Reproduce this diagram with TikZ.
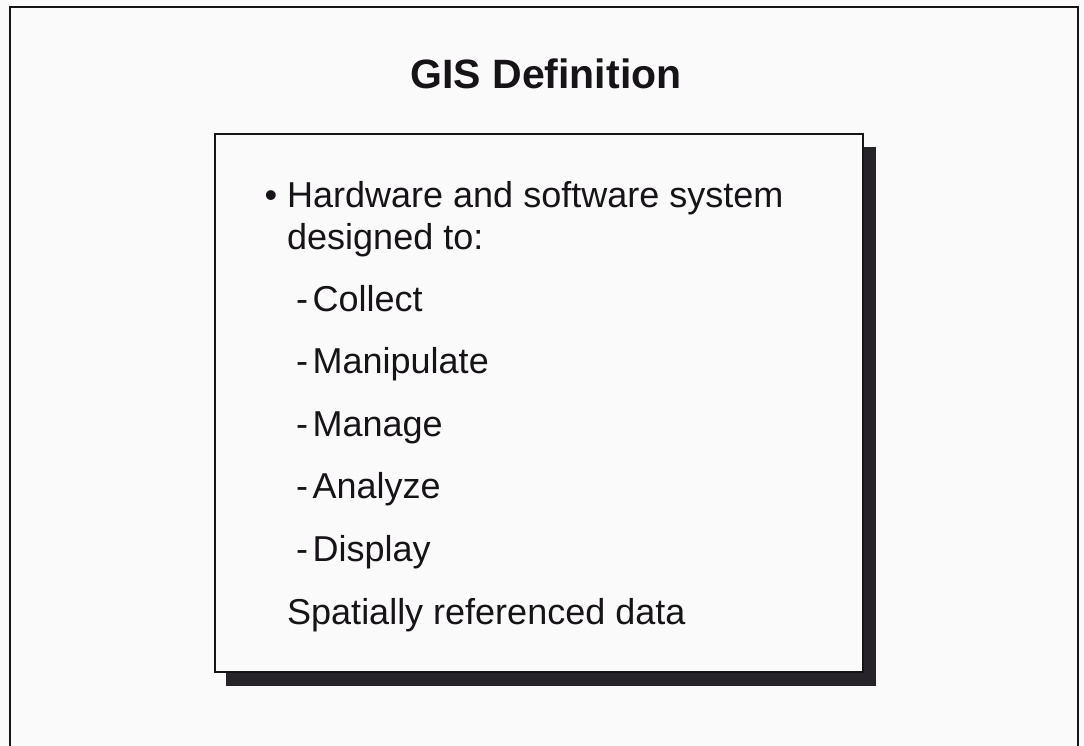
\documentclass[tikz,border=0pt]{standalone}
\usepackage{fontspec}
\setmainfont{Liberation Sans}
\definecolor{paper}{RGB}{251,250,251}
\definecolor{ink}{RGB}{22,20,22}
\definecolor{shade}{RGB}{38,36,40}
\begin{document}
\begin{tikzpicture}[x=1pt,y=-1pt,
  frameline/.style={draw=ink,line width=2pt},
  boxline/.style={draw=ink,line width=2.6pt,fill=paper},
  shadowfill/.style={fill=shade},
  titletext/.style={font=\fontsize{41}{48}\selectfont\bfseries,text=ink,inner sep=0pt,anchor=base},
  itemtext/.style={font=\fontsize{36}{42}\selectfont,text=ink,inner sep=0pt,anchor=base west}]
  % page
  \fill[paper] (0,0) rectangle (1084,745);
  \useasboundingbox (0,0) rectangle (1084,745);
  % slide frame, open at the bottom edge
  \draw[frameline] (10,746) -- (10,7) -- (1078,7) -- (1078,746);
  % title
  \node[titletext] (title) at (546,88) {GIS Definition};
  % drop shadow and text panel
  \path[shadowfill] (226,147) rectangle (876,686);
  \node[boxline,minimum width=648pt,minimum height=538pt,inner sep=0pt] (panel) at (539,403) {};
  % list
  \node[itemtext] (l1) at (264.4,207) {• Hardware and software system};
  \node[itemtext] (l2) at (287,249) {designed to:};
  \node[itemtext] (l3) at (296,311) {-\hspace{4.5pt}Collect};
  \node[itemtext] (l4) at (296,373) {-\hspace{4.5pt}Manipulate};
  \node[itemtext] (l5) at (296,436) {-\hspace{4.5pt}Manage};
  \node[itemtext] (l6) at (296,498) {-\hspace{4.5pt}Analyze};
  \node[itemtext] (l7) at (296,561) {-\hspace{4.5pt}Display};
  \node[itemtext] (l8) at (287,624) {Spatially referenced data};
\end{tikzpicture}
\end{document}
